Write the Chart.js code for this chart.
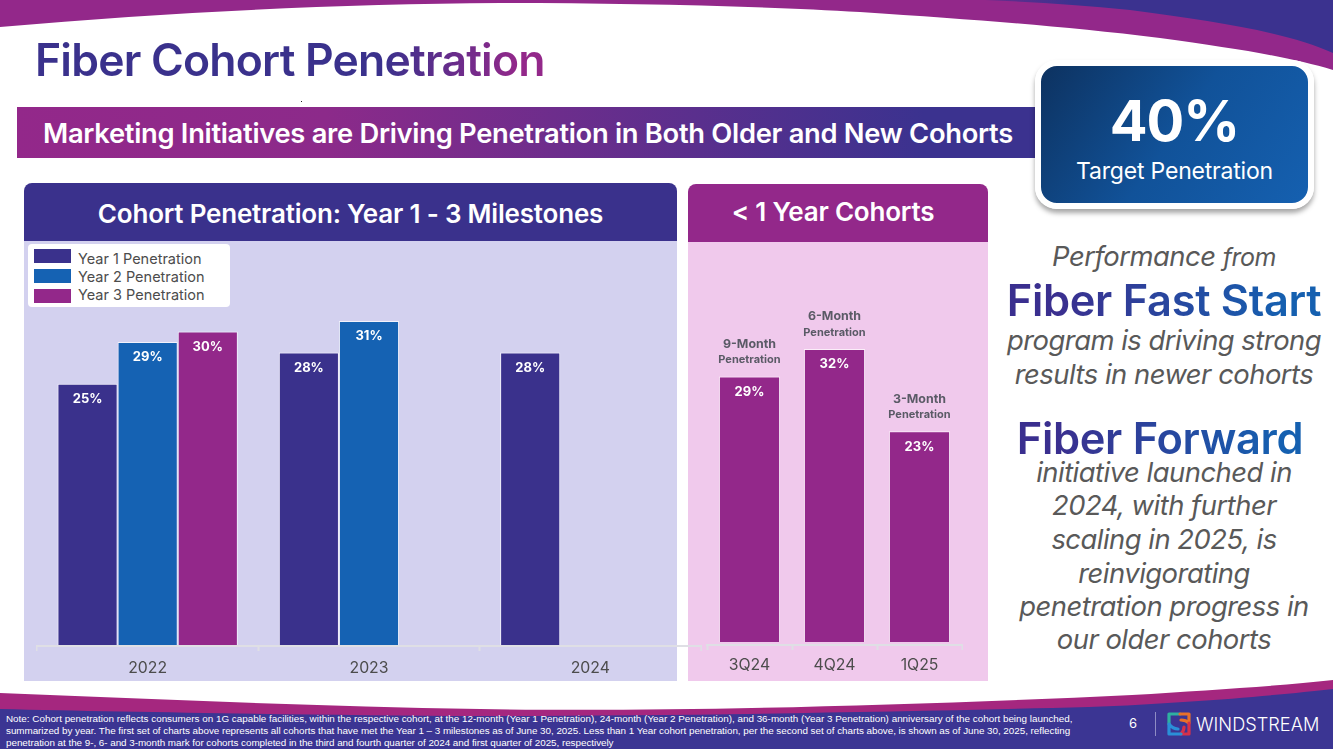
<!DOCTYPE html>
<html>
<head>
<meta charset="utf-8">
<script src="https://cdn.jsdelivr.net/npm/chart.js@4/dist/chart.umd.min.js"></script>
<style>
html, body { margin: 0; padding: 0; background: #fff; }
#slide { position: relative; width: 1333px; height: 749px; overflow: hidden; font-family: Inter, sans-serif; background: #fff; }
#slide > * { position: absolute; }
.t { white-space: nowrap; }
.grad { background-clip: text; -webkit-background-clip: text; color: transparent; }
.head { color: #fff; font-weight: 600; text-align: center; }
.ital { left: 990px; width: 348px; text-align: center; font-style: italic; color: #595959; font-size: 27.4px; letter-spacing: -0.5px; white-space: nowrap; }
.note { left: 6px; color: #fff; font: 9.87px "Liberation Sans", sans-serif; white-space: nowrap; }
.lg { position: absolute; left: 50px; font-size: 14.5px; line-height: 18px; color: #4c4c4c; white-space: nowrap; }
.sw { position: absolute; left: 6px; width: 37px; height: 14px; }
</style>
</head>
<body>
<div id="slide">
  <svg style="left:0;top:0" width="1333" height="749">
    <defs>
      <linearGradient id="topBlue" x1="0" x2="1"><stop offset="0" stop-color="#6b2c8c"/><stop offset="0.25" stop-color="#3b328f"/><stop offset="1" stop-color="#3b328f"/></linearGradient>
    </defs>
    <path d="M0 0H1333V70C1290 57 1240 49 1160 38C1060 26 980 20 860 12C760 6 620 3 500 3C340 4 170 12 0 27Z" fill="#93288a"/>
    <path d="M985 0H1333V53C1290 33 1220 22 1130 10C1080 5 1030 2 985 0Z" fill="url(#topBlue)"/>
    <path d="M0 693C150 699 310 706 480 709C660 712 900 706 1132 695C1210 690 1280 686 1333 680V749H0Z" fill="#a5277f"/>
    <path d="M0 709C130 712 310 715 480 716C660 716 900 712 1089 707C1190 703 1280 695 1333 689V749H0Z" fill="#3b3593"/>
    <rect x="301" y="101" width="1" height="1" fill="#222"/>
  </svg>

  <div class="t grad" style="left:35px;top:34px;font-size:44.5px;font-weight:600;line-height:52px;letter-spacing:-0.8px;background-image:linear-gradient(90deg,#3a318c 0%,#3a318c 68%,#93288a 95%)">Fiber Cohort Penetration</div>

  <div style="left:17px;top:107px;width:1030px;height:51px;background:linear-gradient(90deg,#93288a 0%,#8c2a8a 30%,#3b328f 88%,#3b328f 100%)"></div>
  <div class="t" style="left:43px;top:107px;height:51px;line-height:53px;color:#fff;font-size:27.35px;font-weight:600;letter-spacing:-0.3px">Marketing Initiatives are Driving Penetration in Both Older and New Cohorts</div>

  <div style="left:1035px;top:60px;width:267px;height:137px;border:6px solid #fff;border-radius:22px;background:linear-gradient(125deg,#0d3260 0%,#115299 50%,#1560b0 100%);box-shadow:0 4px 5px rgba(0,0,0,.35)"></div>
  <div class="t" style="left:1041px;top:88px;width:267px;text-align:center;color:#fff;font-size:56px;font-weight:700;line-height:66px;letter-spacing:-1px">40%</div>
  <div class="t" style="left:1041px;top:157px;width:267px;text-align:center;color:#fff;font-size:23px;line-height:28px;letter-spacing:-0.2px">Target Penetration</div>

  <!-- panels -->
  <div style="left:24px;top:241px;width:653px;height:440px;background:#d3d1ef"></div>
  <div class="head" style="left:24px;top:183px;width:653px;height:58px;line-height:62px;background:#3a318c;border-radius:8px 8px 0 0;font-size:26px;letter-spacing:-0.2px">Cohort Penetration: Year 1 - 3 Milestones</div>
  <div style="left:688px;top:242px;width:300px;height:439px;background:#f0c9ec"></div>
  <div class="head" style="left:688px;top:184px;width:290px;padding-right:10px;height:58px;line-height:56px;background:#93288a;border-radius:8px 8px 0 0;font-size:26px;letter-spacing:-0.2px">&lt; 1 Year Cohorts</div>

  <!-- charts -->
  <div style="left:36px;top:250px;width:666px;height:431px"><canvas id="milestoneChart"></canvas></div>
  <div style="left:706px;top:250px;width:257px;height:431px"><canvas id="cohortChart"></canvas></div>

  <div id="legend" style="left:28px;top:244px;width:202px;height:63px;background:#fff;border-radius:4px"></div>

  <!-- right column -->
  <div class="ital" style="top:240px;line-height:32px">Performance <span style="font-size:25px">from</span></div>
  <div class="t grad" style="left:990px;width:348px;top:276px;text-align:center;font-size:43.4px;font-weight:600;line-height:48px;letter-spacing:-0.3px;background-image:linear-gradient(90deg,#3a2f8f 20%,#1560b0 85%)">Fiber Fast Start</div>
  <div class="ital" style="top:324px;line-height:32px">program is driving strong</div>
  <div class="ital" style="top:358px;line-height:32px">results in newer cohorts</div>
  <div class="t grad" style="left:990px;width:340px;top:414px;text-align:center;font-size:43.4px;font-weight:600;line-height:48px;letter-spacing:-0.3px;background-image:linear-gradient(90deg,#3a2f8f 20%,#1560b0 85%)">Fiber Forward</div>
  <div class="ital" style="top:456px;line-height:32px">initiative launched in</div>
  <div class="ital" style="top:489px;line-height:32px">2024, with further</div>
  <div class="ital" style="top:523px;line-height:32px">scaling in 2025, is</div>
  <div class="ital" style="top:557px;line-height:32px">reinvigorating</div>
  <div class="ital" style="top:590px;line-height:32px">penetration progress in</div>
  <div class="ital" style="top:623px;line-height:32px">our older cohorts</div>

  <!-- footer -->
  <div class="note" style="top:713px">Note: Cohort penetration reflects consumers on 1G capable facilities, within the respective cohort, at the 12-month (Year 1 Penetration), 24-month (Year 2 Penetration), and 36-month (Year 3 Penetration) anniversary of the cohort being launched,</div>
  <div class="note" style="top:725px;letter-spacing:-.04px">summarized by year. The first set of charts above represents all cohorts that have met the Year 1 – 3 milestones as of June 30, 2025. Less than 1 Year cohort penetration, per the second set of charts above, is shown as of June 30, 2025, reflecting</div>
  <div class="note" style="top:737px;letter-spacing:-.04px">penetration at the 9-, 6- and 3-month mark for cohorts completed in the third and fourth quarter of 2024 and first quarter of 2025, respectively</div>
  <div class="t" style="left:1129px;top:715px;color:#fff;font-size:13px">6</div>
  <div style="left:1155px;top:712px;width:1px;height:24px;background:#8f8cc4"></div>
  <svg style="left:1166px;top:711px" width="26" height="26" viewBox="0 0 26 26" fill="none" stroke-width="3.2" stroke-linecap="round" stroke-linejoin="round">
    <path d="M3 13V3H14" stroke="#2fb0a0"/><path d="M14 3H23V12C20 9 17 9 15 9" stroke="#e8702a"/><path d="M23 12V23H15C17 21 18 19 18 16" stroke="#d6304a"/><path d="M15 23H3V13C6 17 9 18 12 18" stroke="#2a8fd8"/>
  </svg>
  <div class="t" style="left:1196px;top:711px;color:#fff;font-size:18.2px;line-height:26px;font-weight:300;letter-spacing:0">WINDSTREAM</div>
</div>

<script>
// left chart
const yearLabels = ['2022', '2023', '2024'];
const year1Values = [25, 28, 28];
const year2Values = [29, 31, null];
const year3Values = [30, null, null];

// right chart
const cohortLabels = ['3Q24', '4Q24', '1Q25'];
const cohortValues = [29, 32, 23];
const cohortNotes = ['9-Month', '6-Month', '3-Month'];

const indigo = '#3a318c';
const blue = '#1562b3';
const plum = '#93288a';
const axisGrey = '#dfdfe5';

// white % labels inside the bars, and the grey captions above the right chart bars
const barLabels = {
    id: 'barLabels',
    afterDatasetsDraw(chart) {
        const ctx = chart.ctx;
        ctx.save();
        ctx.textAlign = 'center';
        ctx.textBaseline = 'middle';
        chart.data.datasets.forEach((ds, i) => {
            chart.getDatasetMeta(i).data.forEach((bar, j) => {
                if (ds.data[j] == null) return;
                ctx.fillStyle = '#fff';
                ctx.font = '700 13px Inter';
                ctx.fillText(ds.data[j] + '%', bar.x, bar.y + 15.5);
                if (chart.canvas.id === 'cohortChart') {
                    ctx.fillStyle = '#5a5a66';
                    ctx.font = '700 12.4px Inter';
                    ctx.fillText(cohortNotes[j], bar.x, bar.y - 32.5);
                    ctx.font = '700 11px Inter';
                    ctx.fillText('Penetration', bar.x, bar.y - 16.5);
                }
            });
        });
        ctx.restore();
    }
};

function barOptions(yMin, yMax, axisHeight, tickPad) {
    return {
        responsive: true,
        maintainAspectRatio: false,
        animation: false,
        layout: { padding: { left: 1, right: 1 } },
        plugins: { legend: { display: false }, tooltip: { enabled: false } },
        scales: {
            x: {
                offset: true,
                afterFit: scale => { scale.height = axisHeight; },
                grid: { offset: true, drawOnChartArea: false, drawTicks: true, tickLength: 5, tickWidth: 2, tickColor: axisGrey },
                border: { display: true, color: axisGrey, width: 2 },
                ticks: { color: '#4c4c4c', font: { family: 'Inter', size: 15.8 }, padding: tickPad, maxRotation: 0 }
            },
            y: { display: false, min: yMin, max: yMax }
        }
    };
}

new Chart(document.getElementById('milestoneChart'), {
    type: 'bar',
    data: {
        labels: yearLabels,
        datasets: [
            { label: 'Year 1 Penetration', data: year1Values, backgroundColor: indigo },
            { label: 'Year 2 Penetration', data: year2Values, backgroundColor: blue },
            { label: 'Year 3 Penetration', data: year3Values, backgroundColor: plum }
        ].map(d => ({ ...d, barPercentage: 1, categoryPercentage: 0.815, borderColor: '#f2f1fb', borderWidth: 1 }))
    },
    options: barOptions(-0.1, 37.8, 35, 8),
    plugins: [barLabels]
});

new Chart(document.getElementById('cohortChart'), {
    type: 'bar',
    data: {
        labels: cohortLabels,
        datasets: [
            { label: '< 1 Year Penetration', data: cohortValues, backgroundColor: plum, barPercentage: 0.72, categoryPercentage: 1, borderColor: '#fbeef9', borderWidth: 1 }
        ]
    },
    options: barOptions(-0.33, 42.8, 36, 6),
    plugins: [barLabels]
});

// legend box, built from the same labels and colours
const legendRows = [['Year 1 Penetration', indigo, 15, 5], ['Year 2 Penetration', blue, 33, 25], ['Year 3 Penetration', plum, 51, 45]];
document.getElementById('legend').innerHTML = legendRows.map(r =>
    `<i class="sw" style="top:${r[3]}px;background:${r[1]}"></i><div class="lg" style="top:${r[2] - 9}px">${r[0]}</div>`
).join('');
</script>
</body>
</html>
